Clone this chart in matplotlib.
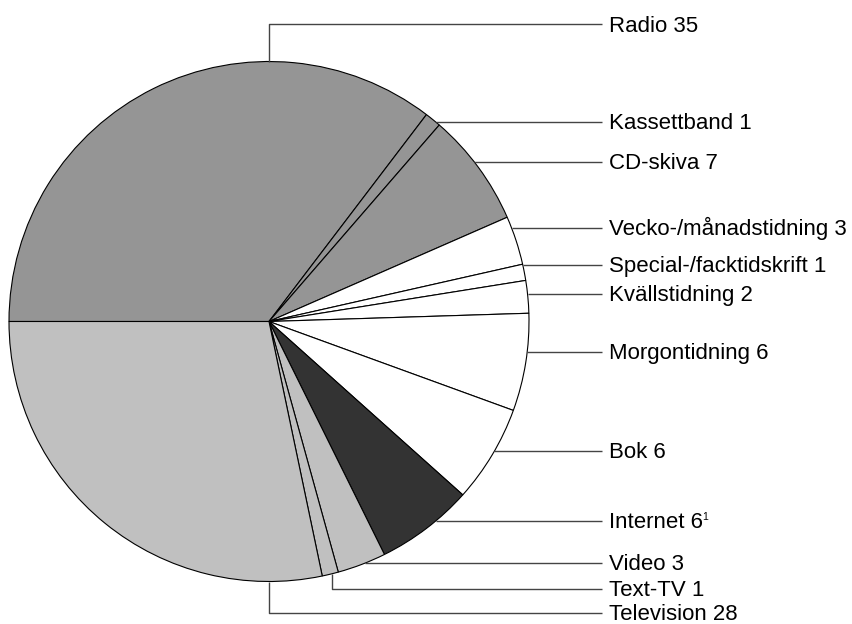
import matplotlib
matplotlib.use('Agg')

import numpy as np
import matplotlib.pyplot as plt

categories = ["Radio", "Kassettband", "CD-skiva", "Vecko-/månadstidning",
              "Special-/facktidskrift", "Kvällstidning", "Morgontidning",
              "Bok", "Internet", "Video", "Text-TV", "Television"]
values = [35, 1, 7, 3, 1, 2, 6, 6, 6, 3, 1, 28]
footnotes = ["", "", "", "", "", "", "", "", "1", "", "", ""]

# styling / layout (pixel coords, y from the top)
colors = ["#959595", "#959595", "#959595", "white", "white", "white", "white",
          "white", "#333333", "#c0c0c0", "#c0c0c0", "#c0c0c0"]
label_y = [24, 122, 162, 228, 265, 294, 352, 451, 521, 563, 589, 613]
W, H = 853, 624
cx, cy, r = 269, 321.5, 260
line_end, text_x = 602, 609
fs = 16

plt.rcParams['font.family'] = ['Liberation Sans', 'DejaVu Sans']

fig = plt.figure(figsize=(W / 100, H / 100), dpi=100)
ax = fig.add_axes([0, 0, 1, 1])

ax.pie(values, colors=colors, startangle=180, counterclock=False,
       center=(cx, H - cy), radius=r,
       wedgeprops=dict(edgecolor='black', linewidth=0.8))
ax.set_xlim(0, W)
ax.set_ylim(0, H)
ax.set_aspect('equal')
ax.axis('off')

lc = dict(color='#444444', lw=1.0, solid_capstyle='butt')
renderer = fig.canvas.get_renderer()

for name, val, note, ly in zip(categories, values, footnotes, label_y):
    if name in ("Radio", "Television"):
        # vertical elbow from top / bottom of the pie
        edge_y = cy - r if name == "Radio" else cy + r
        xs = [cx, cx, line_end]
        ys = [edge_y, ly, ly]
    elif name == "Text-TV":
        ex = 332
        edge_y = cy + np.sqrt(r ** 2 - (ex - cx) ** 2)
        xs = [ex, ex, line_end]
        ys = [edge_y, ly, ly]
    else:
        ex = cx + np.sqrt(r ** 2 - (ly - cy) ** 2)
        xs = [ex, line_end]
        ys = [ly, ly]
    ax.plot(xs, [H - y for y in ys], **lc)
    t = ax.text(text_x, H - ly - 7.5, f"{name} {val}", fontsize=fs,
                ha='left', va='baseline', color='black')
    if note:
        bb = t.get_window_extent(renderer)
        ax.text(bb.x1 - 0.5, H - ly + 8.5, note, fontsize=7.5,
                ha='left', va='top', color='black')

fig.savefig("out.png", dpi=100)
